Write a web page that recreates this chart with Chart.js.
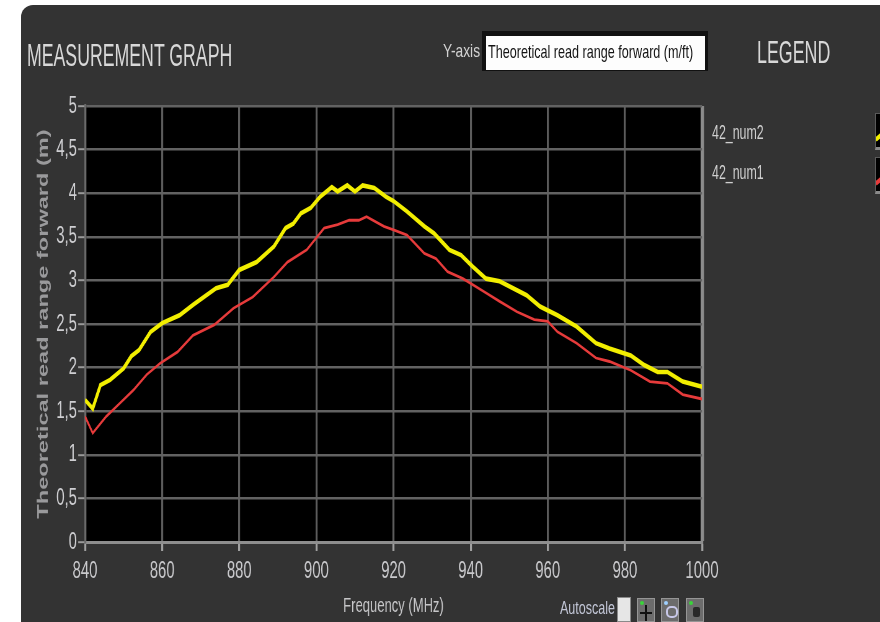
<!DOCTYPE html>
<html>
<head>
<meta charset="utf-8">
<title>Measurement graph</title>
<script src="https://cdn.jsdelivr.net/npm/chart.js@4.4.1/dist/chart.umd.min.js"></script>
<style>
  html, body { margin: 0; padding: 0; background: #fff; width: 880px; height: 622px; overflow: hidden;
               font-family: "Liberation Sans", Arial, sans-serif; }
  #panel { position: absolute; left: 21px; top: 5px; width: 859px; height: 617px; background: #333333;
           border-top-left-radius: 12px; }
  /* the graph is laid out on a wide stage and squeezed to the narrow LabVIEW look */
  #stage { position: absolute; left: 0; top: 0; width: 1420px; height: 622px;
           transform: scaleX(0.62); transform-origin: 0 0; }
  #chart { position: absolute; left: 0; top: 0; }
  .lbl { position: absolute; white-space: nowrap; line-height: 1; transform-origin: 0 0; }
  #ybox { position: absolute; left: 482px; top: 31px; width: 226px; height: 40px; background: #111; }
  #yboxIn { position: absolute; left: 486px; top: 36px; width: 219px; height: 34px; background: #fdfdfd; }
  .swatch { position: absolute; left: 875px; width: 12px; height: 33px; background: #000;
            border: 1px solid #5a5a5a; border-bottom: 3px solid #8a8a8a; overflow: hidden; }
  .swatch i { position: absolute; left: -2px; width: 12px; height: 4px; transform: rotate(-40deg); }
  .chk { position: absolute; left: 617px; top: 597px; width: 14px; height: 25px; background: #e6e6e6;
         border: 1px solid #8a8a8a; box-sizing: border-box; }
  .btn { position: absolute; top: 598px; width: 18px; height: 24px; background: #6c6c6c;
         border: 1px solid #959595; box-sizing: border-box; }
  .btn b { position: absolute; background: #111; }
  .btn u { position: absolute; width: 4px; height: 4px; border-radius: 2px; background: #3ad43a; }
</style>
</head>
<body>
<div id="panel"></div>
<div id="stage">
  <canvas id="chart" width="1420" height="622" style="width:1420px;height:622px"></canvas>
</div>

<div class="lbl" data-w="205" style="left:27px;top:40px;font-size:31px;color:#d8d8d8">MEASUREMENT GRAPH</div>
<div class="lbl" data-w="37" style="left:443px;top:41px;font-size:19px;color:#d2d2d2">Y-axis</div>
<div id="ybox"></div>
<div id="yboxIn"></div>
<div class="lbl" data-w="205" style="left:488px;top:42px;font-size:19px;color:#141414">Theoretical read range forward (m/ft)</div>
<div class="lbl" data-w="73" style="left:757px;top:37px;font-size:31px;color:#d8d8d8">LEGEND</div>
<div id="legend"></div>

<div class="lbl" data-w="55" style="left:560px;top:599px;font-size:18px;color:#c2c6d6">Autoscale</div>
<div class="chk"></div>
<div class="btn" style="left:637px"><u style="left:2px;top:2px"></u><b style="left:7px;top:6px;width:2px;height:16px"></b><b style="left:2px;top:13px;width:12px;height:2px"></b></div>
<div class="btn" style="left:661px"><u style="left:2px;top:2px;background:#9fd0ff"></u><b style="left:4px;top:7px;width:8px;height:8px;border-radius:5px;background:none;border:2px solid #c8c8e8"></b></div>
<div class="btn" style="left:686px"><u style="left:2px;top:2px"></u><b style="left:6px;top:8px;width:7px;height:10px;border-radius:2px;background:#2a2a2a"></b></div>

<script>
// Frequency sweep (MHz) and theoretical read range forward (m) for each tag
const seriesNames = ['42_num2', '42_num1'];
const seriesColors = ['#f2ee00', '#e63b3b'];

const freqNum2 = [840, 842, 844, 846.5, 850, 852, 854, 857, 860, 864.5, 868, 874, 877, 880, 884.5, 889,
  892, 894, 896, 898.5, 901, 904, 905.5, 908, 910, 912, 915, 918, 920, 923.5, 928, 930.5, 934.5,
  937.5, 940.5, 944, 947.5, 951, 954.5, 958, 962.5, 967.5, 972.5, 976, 981.5, 985, 988.5, 991, 995, 1000];
const rangeNum2 = [1.63, 1.53, 1.80, 1.86, 1.99, 2.13, 2.20, 2.41, 2.51, 2.60, 2.72, 2.91, 2.95, 3.12, 3.21, 3.39,
  3.60, 3.65, 3.77, 3.83, 3.96, 4.07, 4.02, 4.09, 4.02, 4.09, 4.06, 3.96, 3.91, 3.79, 3.62, 3.54, 3.35,
  3.29, 3.16, 3.02, 2.99, 2.91, 2.83, 2.70, 2.60, 2.47, 2.28, 2.22, 2.14, 2.03, 1.95, 1.95, 1.84, 1.78];

const freqNum1 = [840, 842, 845.5, 849, 852.5, 856, 859.5, 864, 868, 873.5, 878.5, 883.5, 889, 892.5, 897.5,
  902, 905.5, 908.5, 911, 913, 917.5, 920, 923.5, 928, 931, 934, 938, 943.5, 947.5, 952, 956.5, 960,
  962.5, 967.5, 972.5, 976, 981.5, 986.5, 991, 995, 1000];
const rangeNum1 = [1.44, 1.25, 1.44, 1.59, 1.74, 1.92, 2.05, 2.18, 2.37, 2.49, 2.68, 2.81, 3.04, 3.21, 3.35,
  3.60, 3.64, 3.69, 3.69, 3.73, 3.62, 3.58, 3.52, 3.31, 3.25, 3.10, 3.02, 2.87, 2.76, 2.64, 2.55, 2.53,
  2.41, 2.28, 2.11, 2.07, 1.97, 1.84, 1.82, 1.69, 1.64];

// axis ranges and labels
const freqMin = 840, freqMax = 1000, freqStep = 20;
const rangeMin = 0, rangeMax = 5, rangeStep = 0.5;
const xTitle = 'Frequency (MHz)';
const yTitle = 'Theoretical read range forward (m)';

const FONT = '"Liberation Sans", Arial, sans-serif';

const toPoints = (xs, ys) => xs.map((f, i) => ({ x: f, y: ys[i] }));

// black plotting area behind the traces
const plotBackground = {
  id: 'plotBackground',
  beforeDraw(chart) {
    const { ctx, chartArea: a } = chart;
    ctx.save();
    ctx.fillStyle = '#000';
    ctx.fillRect(a.left, a.top, a.right - a.left, a.bottom - a.top);
    ctx.restore();
  }
};

new Chart(document.getElementById('chart'), {
  type: 'line',
  data: {
    datasets: [
      { label: seriesNames[0], data: toPoints(freqNum2, rangeNum2), borderColor: seriesColors[0],
        borderWidth: 4.6, pointRadius: 0, tension: 0, order: 1 },
      { label: seriesNames[1], data: toPoints(freqNum1, rangeNum1), borderColor: seriesColors[1],
        borderWidth: 2.8, pointRadius: 0, tension: 0, order: 2 }
    ]
  },
  options: {
    responsive: false,
    devicePixelRatio: 1,
    animation: false,
    layout: { padding: { left: 0, top: 106, right: 287.7, bottom: 0 } },
    plugins: { legend: { display: false }, tooltip: { enabled: false } },
    scales: {
      x: {
        type: 'linear', min: freqMin, max: freqMax,
        afterFit(scale) { scale.height = 80; },
        ticks: { stepSize: freqStep, color: '#c9c9cc', font: { size: 24, family: FONT },
                 padding: 6, maxRotation: 0, autoSkip: false, callback: v => String(v) },
        grid: {
          color: c => (c.tick && c.tick.value === freqMax) ? '#8c8c8c' : '#5c5c5c',
          lineWidth: c => (c.tick && c.tick.value === freqMax) ? 5.5 : 3.2,
          tickLength: 9, tickColor: '#a0a0a0', tickWidth: 3.2
        },
        border: { display: true, color: '#8e8e8e', width: 3 },
        title: { display: true, text: xTitle, color: '#c6c6c8', font: { size: 21, family: FONT },
                 padding: { top: 0, bottom: 3 } }
      },
      y: {
        min: rangeMin, max: rangeMax,
        afterFit(scale) { scale.width = 137.1; },
        ticks: { stepSize: rangeStep, color: '#cfcfd2', font: { size: 24, family: FONT }, padding: 2,
                 callback: v => String(v).replace('.', ',') },
        grid: { color: '#626262', lineWidth: 2.4, tickLength: 11, tickColor: '#9a9a9a', tickWidth: 2 },
        border: { display: true, color: '#6a6a6a', width: 3.2 },
        title: { display: true, text: yTitle, color: '#9a9a9c',
                 font: { size: 23.6, weight: 'bold', family: FONT }, padding: { top: 56.6, bottom: 0 } }
      }
    }
  },
  plugins: [plotBackground]
});

// legend column: names on the left, sample boxes at the panel edge
const legend = document.getElementById('legend');
seriesNames.forEach((name, i) => {
  const top = 121 + i * 40;
  const t = document.createElement('div');
  t.className = 'lbl';
  t.dataset.w = '52';
  t.style.cssText = `left:712px;top:${top}px;font-size:21px;color:#cfcfcf`;
  t.textContent = name;
  legend.appendChild(t);
  const sw = document.createElement('div');
  sw.className = 'swatch';
  sw.style.top = (113 + i * 44) + 'px';
  const line = document.createElement('i');
  line.style.top = '20px';
  line.style.background = seriesColors[i];
  sw.appendChild(line);
  legend.appendChild(sw);
});

// squeeze each caption to its narrow width
document.querySelectorAll('.lbl').forEach(el => {
  const w = el.scrollWidth;
  if (w > 0) el.style.transform = `scaleX(${parseFloat(el.dataset.w) / w})`;
});
</script>
</body>
</html>
